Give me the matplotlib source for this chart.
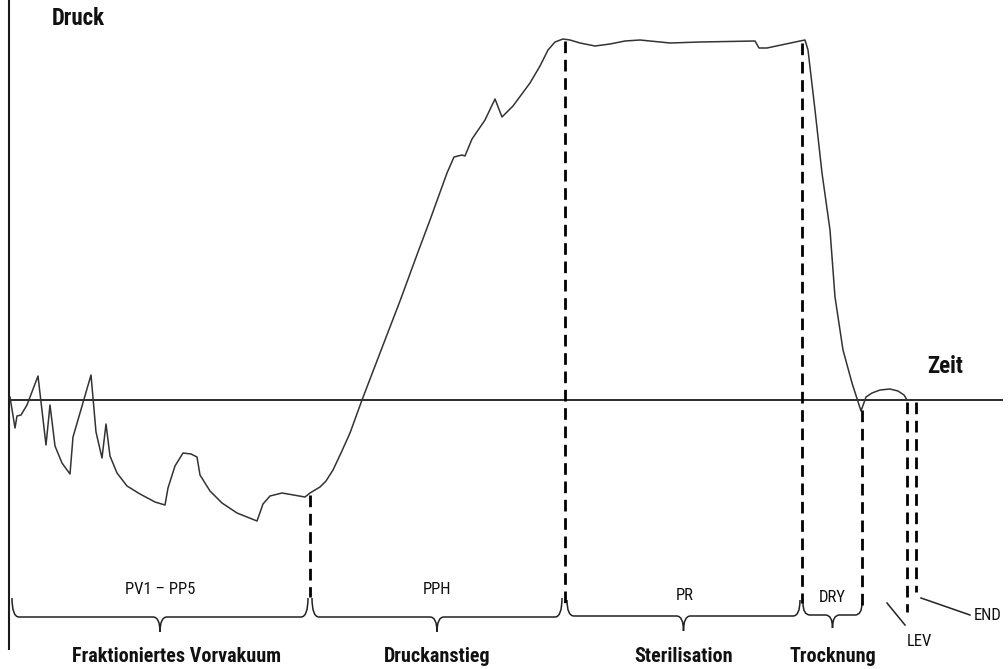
import numpy as np
import matplotlib
matplotlib.use("Agg")
import matplotlib.pyplot as plt
from matplotlib.path import Path
from matplotlib.patches import PathPatch
from matplotlib import font_manager

# ---------------- data (time in arbitrary units, pressure relative to ambient) -------------
time = [10, 15, 17, 21, 27, 38, 46, 50, 55, 62, 70, 73, 80, 91, 96, 102, 106, 110, 117,
        127, 140, 155, 165, 168, 175, 183, 191, 197, 200, 210, 222, 237, 257, 263, 270,
        282, 305, 310, 315, 320, 326, 333, 341, 350, 362, 380, 400, 418, 430, 447, 454,
        462, 465, 472, 485, 495, 502, 513, 530, 540, 548, 555, 563, 570, 580, 595, 610,
        625, 640, 670, 700, 755, 759, 767, 800, 805, 808, 815, 822, 830, 835, 843, 852,
        861, 866, 872, 880, 890, 898, 904, 907]
pressure = [3, -28, -16, -15, -5, 24, -45, -5, -46, -63, -74, -37, -13, 25, -32, -58, -24,
            -56, -73, -86, -94, -102, -105, -88, -66, -53, -54, -57, -75, -91, -103, -113,
            -121, -104, -96, -93, -97, -93, -90, -87, -81, -70, -53, -33, 0, 47, 99, 148,
            180, 227, 243, 245, 244, 261, 280, 301, 283, 294, 317, 334, 350, 358, 361, 360,
            357, 354, 356, 359, 360, 357, 358, 359, 352, 352, 359, 360, 350, 290, 227, 170,
            103, 50, 17, -11, 3, 7, 10, 11, 9, 5, 0]

phase_bounds = [310, 565, 802, 862, 907, 916]
phase_codes = ["PV1 \u2013 PP5", "PPH", "PR", "DRY"]
phase_names = ["Fraktioniertes Vorvakuum", "Druckanstieg", "Sterilisation", "Trocknung"]
brace_spans = [(12, 308), (312, 562), (567, 800), (803, 862)]
end_codes = ["LEV", "END"]

# ---------------- fonts ----------------
available = {f.name for f in font_manager.fontManager.ttflist}
narrow = None
for cand in ["Roboto Condensed", "Liberation Sans Narrow", "DejaVu Sans Condensed",
             "Open Sans Condensed", "Roboto", "Lato"]:
    if cand in available:
        narrow = cand
        break
if narrow is None:
    narrow = "DejaVu Sans"
fam = [narrow, "DejaVu Sans"]
plt.rcParams["font.family"] = fam

# ---------------- figure ----------------
fig = plt.figure(figsize=(10.08, 6.69), dpi=100)
ax = fig.add_axes([0, 0, 1, 1])
ax.set_xlim(0, 1008)
ax.set_ylim(-269, 400)
ax.axis("off")

ink = "#1a1a1a"
# axes lines
ax.plot([9, 9], [400, -250], color=ink, lw=1.5, solid_capstyle="butt")
ax.plot([8, 1003], [0, 0], color=ink, lw=1.3, solid_capstyle="butt")

# pressure curve
ax.plot(time, pressure, color="#333333", lw=1.1, solid_joinstyle="round")

# dashed phase boundaries
dash_bottoms = [-197, -203, -203, -207, -212, -192]
for xb, yb in zip(phase_bounds, dash_bottoms):
    ytop = float(np.interp(xb, time, pressure)) if xb <= time[-1] else 0.0
    ax.plot([xb, xb], [ytop - 2, yb], color="black", lw=2.0,
            linestyle=(0, (4.2, 2.4)), solid_capstyle="butt")

# curly braces
def brace(x0, x1, y_top, y_mid, y_tip, r=7, lw=1.1):
    xc = (x0 + x1) / 2
    verts = [(x0, y_top), (x0, y_mid), (x0 + r, y_mid),
             (xc - r, y_mid),
             (xc, y_mid), (xc, y_tip),
             (xc, y_mid), (xc + r, y_mid),
             (x1 - r, y_mid),
             (x1, y_mid), (x1, y_top)]
    codes = [Path.MOVETO, Path.CURVE3, Path.CURVE3,
             Path.LINETO,
             Path.CURVE3, Path.CURVE3,
             Path.CURVE3, Path.CURVE3,
             Path.LINETO,
             Path.CURVE3, Path.CURVE3]
    ax.add_patch(PathPatch(Path(verts, codes), fill=False, edgecolor="#222222", lw=lw))
    return xc

brace_tops = [-198, -198, -200, -203]
brace_mids = [-217, -217, -216, -215]
brace_tips = [-232, -232, -231, -228]
code_y = [-190, -190, -195, -198]
for (x0, x1), yt, ym, yp, code, name, cy in zip(brace_spans, brace_tops, brace_mids,
                                                 brace_tips, phase_codes, phase_names, code_y):
    xc = brace(x0, x1, yt, ym, yp)
    ax.text(xc + (1 if code == "PR" else 0), cy, code, ha="center", va="center",
            fontsize=12, color="#111111")
    ax.text(xc + (17 if name.startswith("Frak") else 0), -262, name, ha="center",
            va="baseline", fontsize=14.5, fontweight="bold", color="#111111")

# LEV / END leaders
ax.plot([887, 905], [-203, -225], color="#222222", lw=1.1)
ax.plot([921, 970], [-198, -215], color="#222222", lw=1.1)
ax.text(919, -241, end_codes[0], ha="center", va="center", fontsize=12, color="#111111")
ax.text(988, -216, end_codes[1], ha="center", va="center", fontsize=12, color="#111111")

# axis titles
ax.text(52, 375, "Druck", ha="left", va="baseline", fontsize=16.5, fontweight="bold",
        color="#111111")
ax.text(927, 27, "Zeit", ha="left", va="baseline", fontsize=16.5, fontweight="bold",
        color="#111111")

fig.savefig("out.png", dpi=100)
